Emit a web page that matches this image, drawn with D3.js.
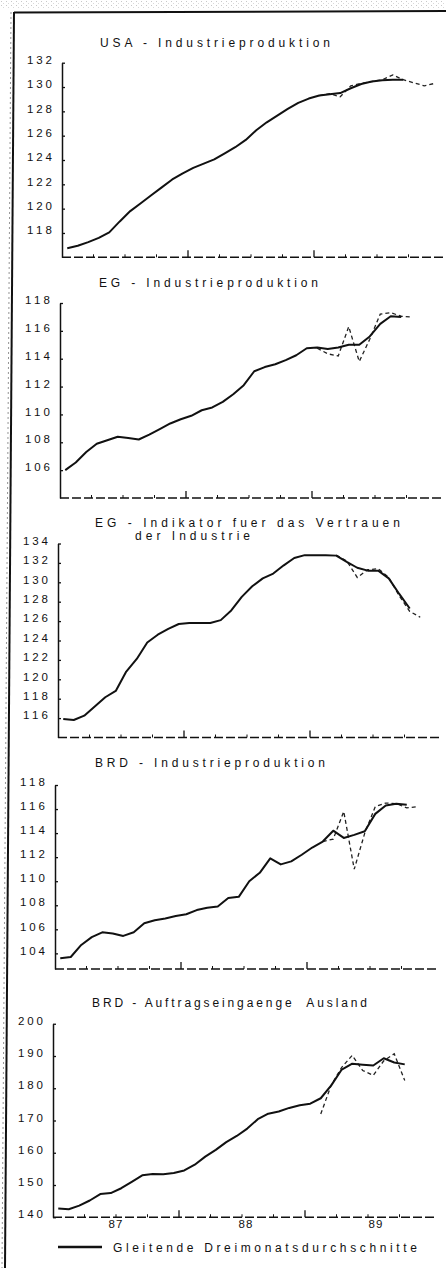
<!DOCTYPE html>
<html>
<head>
<meta charset="utf-8">
<script src="https://cdnjs.cloudflare.com/ajax/libs/d3/7.8.5/d3.min.js"></script>
<style>
	body{margin:0;background:#fff;}
	svg text{font-family:"Liberation Sans",Arial,sans-serif;fill:#111;}
</style>
</head>
<body>
<div id="app"></div>
<script>
// months counted from Jan 87 (index 0), one value per month
const years = ["87","88","89"];
const majorMonths = [12,24];
const minorMonths = [3,6,9,15,18,21,27,30,33];

const usaTicks = [118,120,122,124,126,128,130,132];
const usaSolid = [116.75,116.95,117.25,117.6,118.05,118.95,119.8,120.45,121.1,121.75,122.4,122.9,123.35,123.7,124.05,124.55,125.05,125.65,126.45,127.1,127.65,128.2,128.7,129.05,129.3,129.4,129.5,129.9,130.25,130.45,130.55,130.6,130.6];
const usaDashStart = 24;
const usaDashed = [129.3,129.45,129.2,130.1,130.3,130.45,130.6,131.0,130.6,130.35,130.1,130.3];

const egTicks = [106,108,110,112,114,116,118];
const egSolid = [106.0,106.55,107.3,107.9,108.15,108.4,108.3,108.2,108.55,108.95,109.35,109.65,109.9,110.3,110.5,110.9,111.45,112.1,113.1,113.4,113.6,113.9,114.25,114.75,114.8,114.7,114.8,115.0,115.0,115.6,116.5,117.05,117.0];
const egDashStart = 24;
const egDashed = [114.75,114.35,114.2,116.3,113.8,115.4,117.2,117.3,117.05,117.0];

const indTicks = [116,118,120,122,124,126,128,130,132,134];
const indSolid = [115.9,115.8,116.25,117.2,118.15,118.8,120.8,122.1,123.8,124.6,125.2,125.7,125.8,125.8,125.8,126.1,127.1,128.5,129.6,130.4,130.9,131.75,132.5,132.8,132.8,132.8,132.75,132.1,131.5,131.2,131.2,130.4,128.8,127.3];
const indDashStart = 26;
const indDashed = [132.8,132.2,130.5,131.3,131.4,130.5,128.6,127.0,126.4];

const brdTicks = [104,106,108,110,112,114,116,118];
const brdSolid = [103.6,103.7,104.7,105.35,105.75,105.65,105.45,105.75,106.5,106.75,106.9,107.1,107.25,107.6,107.8,107.9,108.6,108.7,110.0,110.7,111.9,111.4,111.65,112.2,112.8,113.3,114.2,113.6,113.85,114.15,115.6,116.3,116.45,116.35];
const brdDashStart = 25;
const brdDashed = [113.3,113.5,115.8,111.0,114.0,116.2,116.5,116.45,116.1,116.2];

const aufTicks = [140,150,160,170,180,190,200];
const aufSolid = [142.7,142.5,143.6,145.2,147.2,147.5,149.0,151.0,153.0,153.4,153.3,153.7,154.5,156.3,158.8,160.9,163.3,165.2,167.5,170.4,172.1,172.8,173.9,174.7,175.2,176.9,180.9,185.8,187.6,187.3,187.05,189.3,188.0,187.4];
const aufDashStart = 25;
const aufDashed = [172.0,181.0,186.5,190.2,185.5,184.0,188.5,190.7,182.4];

const legendText = "Gleitende Dreimonatsdurchschnitte";

const W = 446, H = 1268;

// the scan is slightly skewed, so every panel has its own left edge
const panels = [
	{solid:usaSolid, dashed:usaDashed, dashStart:usaDashStart, ticks:usaTicks, domain:[116,132],
		x0:62, top:62.7, bottom:257.3,
		titles:[{t:"USA - Industrieproduktion", x:100, y:47, w:230}]},
	{solid:egSolid, dashed:egDashed, dashStart:egDashStart, ticks:egTicks, domain:[104,118],
		x0:60, top:303, bottom:498,
		titles:[{t:"EG - Industrieproduktion", x:99, y:287, w:219}]},
	{solid:indSolid, dashed:indDashed, dashStart:indDashStart, ticks:indTicks, domain:[114,134],
		x0:58, top:543.5, bottom:737.5,
		titles:[{t:"EG - Indikator fuer das Vertrauen", x:95, y:527, w:305},
			{t:"der Industrie", x:135, y:540, w:115}]},
	{solid:brdSolid, dashed:brdDashed, dashStart:brdDashStart, ticks:brdTicks, domain:[102.7,118],
		x0:55, top:785, bottom:969,
		titles:[{t:"BRD - Industrieproduktion", x:95, y:767, w:230}]},
	{solid:aufSolid, dashed:aufDashed, dashStart:aufDashStart, ticks:aufTicks, domain:[140,200],
		x0:53, top:1023.75, bottom:1217.25, years:true,
		titles:[{t:"BRD - Auftragseingaenge  Ausland", x:92, y:1007, w:275}]}
];

const svg = d3.select("#app").append("svg")
	.attr("width", W)
	.attr("height", H);

svg.append("rect").attr("width", W).attr("height", H).attr("fill", "#fff");

// scanner noise at the very top
let defs = svg.append("defs");
let pat = defs.append("pattern").attr("id","noise").attr("width",5).attr("height",4).attr("patternUnits","userSpaceOnUse");
pat.append("rect").attr("x",1).attr("y",1).attr("width",1).attr("height",1).attr("fill","#c8c8c8");
pat.append("rect").attr("x",3).attr("y",3).attr("width",1).attr("height",1).attr("fill","#dadada");
svg.append("rect").attr("x",0).attr("y",0).attr("width",W).attr("height",9).attr("fill","url(#noise)");

// frame
svg.append("line").attr("x1",14).attr("y1",12.5).attr("x2",W).attr("y2",11)
	.attr("stroke","#111").attr("stroke-width",2);
svg.append("line").attr("x1",14).attr("y1",12).attr("x2",5).attr("y2",H)
	.attr("stroke","#111").attr("stroke-width",2);
svg.append("line").attr("x1",11).attr("y1",12).attr("x2",2).attr("y2",H)
	.attr("stroke","#777").attr("stroke-width",0.8).attr("stroke-dasharray","2,3");

function drawPanel(p){
	let g = svg.append("g");
	let x = d3.scaleLinear().domain([0,36]).range([p.x0, p.x0+378]);
	let y = d3.scaleLinear().domain(p.domain).range([p.bottom, p.top]);
	let xEnd = Math.min(W, p.x0+384);

	// y axis, ticks point inside
	let ya = g.append("g")
		.attr("transform","translate("+p.x0+",0)")
		.call(d3.axisLeft(y).tickValues(p.ticks).tickSizeInner(-3).tickSizeOuter(0).tickPadding(10));
	ya.select(".domain").attr("stroke","#111").attr("stroke-width",1.5);
	ya.selectAll(".tick line").attr("stroke","#111").attr("stroke-width",1.3);
	ya.selectAll(".tick text")
		.attr("font-family",'"Liberation Sans",Arial,sans-serif')
		.attr("font-size",11.5)
		.attr("fill","#111")
		.attr("dy","0.06em")
		.attr("textLength",25)
		.attr("lengthAdjust","spacing");

	// x axis: dashed base line + year ticks
	g.append("line")
		.attr("x1",p.x0).attr("x2",xEnd)
		.attr("y1",p.bottom).attr("y2",p.bottom)
		.attr("stroke","#111").attr("stroke-width",1.5)
		.attr("stroke-dasharray","9,3");
	g.selectAll("line.major").data(majorMonths).enter().append("line")
		.attr("class","major")
		.attr("x1",d=>x(d)).attr("x2",d=>x(d))
		.attr("y1",p.bottom).attr("y2",p.bottom-7)
		.attr("stroke","#111").attr("stroke-width",1.3);
	g.selectAll("line.minor").data(minorMonths).enter().append("line")
		.attr("class","minor")
		.attr("x1",d=>x(d)).attr("x2",d=>x(d))
		.attr("y1",p.bottom).attr("y2",p.bottom-3)
		.attr("stroke","#111").attr("stroke-width",1);

	// titles
	g.selectAll("text.title").data(p.titles).enter().append("text")
		.attr("class","title")
		.attr("x",d=>d.x).attr("y",d=>d.y)
		.attr("font-size",12)
		.attr("textLength",d=>d.w)
		.attr("lengthAdjust","spacing")
		.style("white-space","pre")
		.text(d=>d.t);

	let line = d3.line()
		.x(d=>x(d.m+0.5))
		.y(d=>y(d.v));

	let dash = p.dashed.map((v,i)=>({m:p.dashStart+i, v:v}));
	g.append("path")
		.attr("d", line(dash))
		.attr("fill","none")
		.attr("stroke","#222")
		.attr("stroke-width",1.3)
		.attr("stroke-dasharray","4,3");

	let solid = p.solid.map((v,i)=>({m:i, v:v}));
	g.append("path")
		.attr("d", line(solid))
		.attr("fill","none")
		.attr("stroke","#111")
		.attr("stroke-width",2)
		.attr("stroke-linejoin","round");

	if(p.years){
		g.selectAll("text.year").data(years).enter().append("text")
			.attr("class","year")
			.attr("x",(d,i)=>x(i*12+6)+i*4)
			.attr("y",p.bottom+11)
			.attr("text-anchor","middle")
			.attr("font-size",11.5)
			.attr("letter-spacing","1px")
			.text(d=>d);
	}
}

panels.forEach(drawPanel);

// legend
svg.append("line")
	.attr("x1",58).attr("x2",102)
	.attr("y1",1247).attr("y2",1247)
	.attr("stroke","#111").attr("stroke-width",2.5);
svg.append("text")
	.attr("x",113).attr("y",1252)
	.attr("font-size",12)
	.attr("textLength",304)
	.attr("lengthAdjust","spacing")
	.text(legendText);
</script>
</body>
</html>
